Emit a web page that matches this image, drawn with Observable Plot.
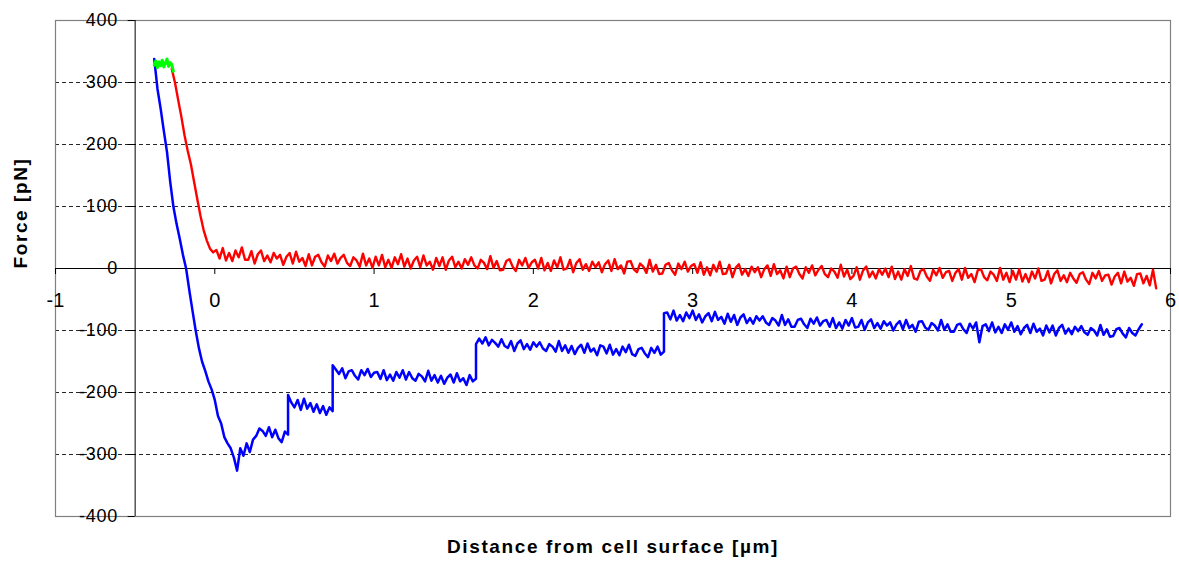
<!DOCTYPE html>
<html>
<head>
<meta charset="utf-8">
<script src="https://cdn.jsdelivr.net/npm/d3@7"></script>
<script src="https://cdn.jsdelivr.net/npm/@observablehq/plot@0.6"></script>
<style>
  html, body { margin: 0; padding: 0; background: #fff; }
  #chart svg { display: block; }
  #chart g[aria-label="text"] text { letter-spacing: 1.6px; }
  #chart g[aria-label="y-axis tick label"] text { letter-spacing: 0.8px; }
</style>
</head>
<body>
<div id="chart"></div>
<script>
// ---- axis ticks ----
const xTicks = [-1, 0, 1, 2, 3, 4, 5, 6];
const xTickLabels = ["-1", "0", "1", "2", "3", "4", "5", "6"];
const yTicks = [-400, -300, -200, -100, 0, 100, 200, 300, 400];
const yTickLabels = ["-400", "-300", "-200", "-100", "0", "100", "200", "300", "400"];
const yGrid = [-300, -200, -100, 100, 200, 300];

// ---- green trace (contact), sampled from x = -0.38 every 0.01 µm ----
const greenX0 = -0.38, greenStep = 0.01;
const greenForce = [328, 335, 324, 333, 327, 336, 325, 331, 338, 326, 332, 329, 318];

// ---- red trace (approach), sampled from x = -0.27 every 0.02 µm ----
const redX0 = -0.27, redStep = 0.02;
const redForce = [
  322, 300, 272, 245, 215, 190, 168, 140, 112, 85, 62, 45, 32, 26,
  30, 16, 33, 13, 25, 12, 29, 18, 34, 14,
  14, 28, 8, 23, 29, 12, 21, 10, 25, 16,
  22, 6, 19, 25, 8, 27, 11, 17, 4, 23,
  5, 19, 22, 10, 3, 21, 12, 24, 8, 17,
  22, 9, 4, 18, 13, 3, 24, 5, 16, 1,
  19, 5, 22, 2, 14, 1, 18, 7, 23, 3,
  16, 0, 13, 19, 2, 21, 5, 11, -2, 17,
  4, 18, -2, 13, 19, 2, 11, 0, 15, 6,
  18, 5, 0, 14, 9, -1, 20, 1, 12, -3,
  -2, 12, 15, 3, -4, 14, 5, 17, 1, 10,
  14, 0, 17, -3, 9, -4, 13, 2, 18, -2,
  0, 14, -6, 9, 15, -2, 7, -4, 11, 2,
  10, -6, 7, 13, -4, 15, -1, 5, -8, 11,
  12, -1, -6, 8, 3, -7, 14, -5, 6, -9,
  -8, 6, 9, -3, -10, 8, -1, 11, -5, 4,
  7, -7, 10, -10, 2, -11, 6, -5, 11, -9,
  -8, 6, -14, 1, 7, -10, -1, -12, 3, -6,
  2, -14, -1, 5, -12, 7, -9, -3, -16, 3,
  -14, 0, 3, -9, -16, 2, -7, 5, -11, -2,
  4, -9, -14, 0, -5, -15, 6, -13, -2, -17,
  -12, 2, -18, -3, 3, -14, -5, -16, -1, -10,
  0, -14, 3, -17, -5, -18, -1, -12, 4, -16,
  -18, -4, -1, -13, -20, -2, -11, 1, -15, -6,
  -4, -20, -7, -1, -18, 1, -15, -9, -22, -3,
  -1, -14, -19, -5, -10, -20, 1, -18, -7, -22,
  -4, -18, -1, -21, -9, -22, -5, -16, 0, -20,
  -18, -4, -24, -9, -3, -20, -11, -22, -7, -16,
  -23, -9, -6, -18, -25, -7, -16, -4, -20, -11,
  -10, -26, -13, -7, -24, -5, -21, -15, -28, -9,
  -8, -24, -12, -27, -2, -32
];

// ---- blue trace (retraction), each piece sampled every 0.02 µm ----
const blueStep = 0.02;
const blueStarts = [-0.38, 0.16, 0.46, 0.74, 1.64, 2.82];
const blueDescent = [338, 290, 258, 222, 188, 140, 100, 72, 48, 22, 0, -35, -68, -100,
  -128, -150, -165, -182, -195, -212, -238, -250, -272, -282, -290, -305, -326];
const bluePlateau1 = [-290, -302, -282, -296, -276, -270, -258, -262, -270, -256, -272, -260,
  -274, -280, -263, -268];
const bluePlateau2 = [-204, -216, -224, -212, -228, -210, -226, -217, -231, -219, -233, -222,
  -236, -224, -230];
const bluePlateau3 = [-156, -163, -170, -161,
  -177, -166, -164, -173, -179, -164, -172, -162, -175, -168,
  -167, -178, -164, -180, -171, -181, -167, -176, -164, -179,
  -167, -177, -181, -170, -174, -182, -165, -181, -172, -184,
  -173, -186, -176, -171, -184, -169, -182, -177, -188, -172,
  -182, -178];
const bluePlateau4 = [-122, -113, -121, -111, -124, -115, -120, -126, -114, -125,
  -128, -117, -133, -121, -116, -130, -122, -131, -119, -126,
  -119, -129, -133, -122, -126, -134, -117, -133, -124, -136,
  -125, -138, -128, -123, -136, -121, -134, -129, -140, -124,
  -126, -137, -123, -139, -130, -140, -126, -135, -123, -138,
  -141, -130, -128, -137, -143, -128, -136, -126, -139, -134];
const bluePlateau5 = [-72,
  -71, -82, -68, -84, -75, -85, -71, -80, -68, -83,
  -74, -87, -77, -72, -85, -70, -83, -78, -89, -73,
  -86, -75, -91, -79, -74, -88, -80, -89, -77, -84,
  -77, -87, -91, -80, -84, -92, -75, -91, -82, -94,
  -94, -83, -81, -90, -96, -81, -89, -79, -92, -85,
  -83, -94, -80, -96, -87, -97, -83, -92, -80, -95,
  -94, -83, -99, -87, -82, -96, -88, -97, -85, -92,
  -87, -100, -90, -85, -98, -83, -96, -91, -102, -86,
  -85, -95, -99, -88, -92, -100, -83, -99, -90, -102,
  -102, -91, -89, -98, -104, -89, -97, -87, -119, -93,
  -90, -101, -87, -103, -94, -104, -90, -99, -87, -102,
  -93, -106, -96, -91, -104, -89, -102, -97, -108, -92,
  -103, -92, -108, -96, -91, -105, -97, -106, -94, -101,
  -93, -103, -107, -96, -100, -108, -91, -107, -98, -110,
  -109, -98, -96, -105, -111, -96, -104, -108, -98, -90];

// ---- build tables ----
function trace(x0, step, ys) {
  return ys.map((f, i) => ({x: +(x0 + i * step).toFixed(4), f}));
}
const green = trace(greenX0, greenStep, greenForce);
const red = trace(redX0, redStep, redForce);
const bluePieces = [blueDescent, bluePlateau1, bluePlateau2, bluePlateau3, bluePlateau4, bluePlateau5];
const blue = bluePieces.flatMap((p, k) => trace(blueStarts[k], blueStep, p));

const chart = Plot.plot({
  width: 1179,
  height: 564,
  marginLeft: 55,
  marginRight: 9,
  marginTop: 20,
  marginBottom: 48,
  style: {fontFamily: "'Liberation Sans', Arial, sans-serif", background: "#fff", color: "#000"},
  x: {type: "linear", domain: [-1, 6], label: null},
  y: {type: "linear", domain: [-400, 400], label: null},
  marks: [
    Plot.ruleY(yGrid, {stroke: "#000", strokeWidth: 1, strokeDasharray: "4,3", strokeOpacity: 0.85}),
    Plot.frame({stroke: "#808080", strokeWidth: 1.2}),
    Plot.ruleY([0], {stroke: "#000", strokeWidth: 1}),
    Plot.ruleX([-0.5], {stroke: "#000", strokeWidth: 1}),
    Plot.axisX(xTicks, {y: 0, anchor: "bottom", label: null, tickSize: 6, tickPadding: 18, fontSize: 20,
      tickFormat: (d) => xTickLabels[xTicks.indexOf(d)], stroke: "#000", fill: "#000"}),
    Plot.axisY(yTicks, {x: -0.5, anchor: "left", label: null, tickSize: 7, tickPadding: 10, fontSize: 18,
      tickFormat: (d) => yTickLabels[yTicks.indexOf(d)], stroke: "#000", fill: "#000"}),
    Plot.line(red, {x: "x", y: "f", stroke: "#ff0000", strokeWidth: 2.4}),
    Plot.line(blue, {x: "x", y: "f", stroke: "#0000ff", strokeWidth: 2.5}),
    Plot.line(green, {x: "x", y: "f", stroke: "#00ff00", strokeWidth: 3}),
    Plot.text(["Force [pN]"], {frameAnchor: "left", dx: -35, rotate: -90, text: (d) => d,
      fontSize: 19, fontWeight: "bold", fill: "#000"}),
    Plot.text(["Distance from cell surface [µm]"], {frameAnchor: "bottom", dy: 36, text: (d) => d,
      fontSize: 19, fontWeight: "bold", fill: "#000"})
  ]
});
document.getElementById("chart").appendChild(chart);
</script>
</body>
</html>
